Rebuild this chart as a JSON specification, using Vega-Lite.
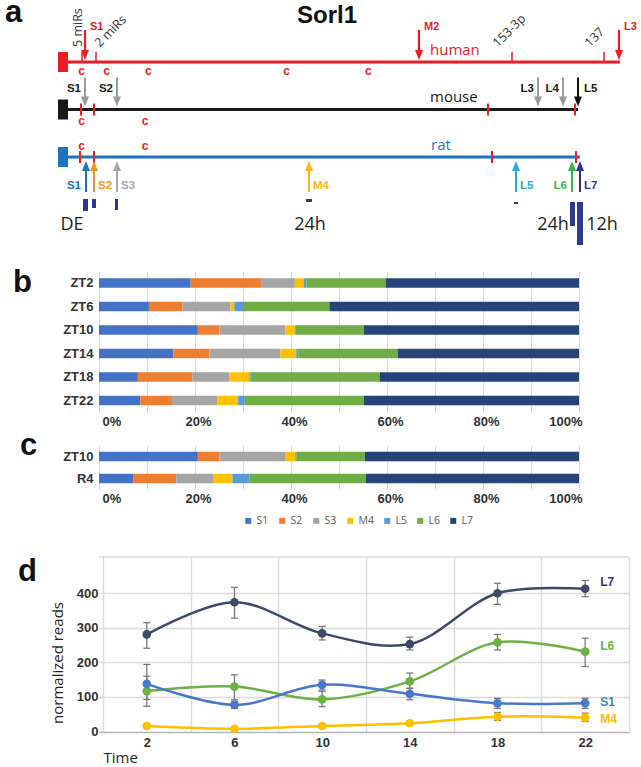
{
  "$schema": "https://vega.github.io/schema/vega-lite/v6.json",
  "padding": {"left": 5, "top": -4, "right": 0, "bottom": 0},
  "autosize": {"type": "pad"},
  "bounds": "flush",
  "spacing": 33.25,
  "resolve": {"scale": {"color": "independent"}, "legend": {"color": "independent"}},
  "config": {
    "view": {"stroke": null},
    "axis": {"labelFont": "Liberation Sans", "labelFontWeight": "bold", "labelFontSize": 13, "labelColor": "#333", "domain": false, "ticks": false, "tickSize": 0, "gridColor": "#d9d9d9", "titleFont": "Open Sans"}
  },
  "datasets": {
    "species": [
      {"species": "human", "track": 1, "box0": -20, "start": 80, "end": 5600, "namePos": 3700},
      {"species": "mouse", "track": 2, "box0": -20, "start": 80, "end": 5180, "namePos": 3700},
      {"species": "rat", "track": 3, "box0": -20, "start": 80, "end": 5200, "namePos": 3710}
    ],
    "sites": [
      {"species": "human", "track": 1, "pos": 220},
      {"species": "human", "track": 1, "pos": 360},
      {"species": "human", "track": 1, "pos": 4520},
      {"species": "human", "track": 1, "pos": 5440}
    ],
    "pas": [
      {"species": "mouse", "track": 2, "pos": 210},
      {"species": "mouse", "track": 2, "pos": 340},
      {"species": "mouse", "track": 2, "pos": 4280},
      {"species": "mouse", "track": 2, "pos": 5150},
      {"species": "rat", "track": 3, "pos": 200},
      {"species": "rat", "track": 3, "pos": 340},
      {"species": "rat", "track": 3, "pos": 4320},
      {"species": "rat", "track": 3, "pos": 5160}
    ],
    "cs": [
      {"species": "human", "track": 1, "pos": 217},
      {"species": "human", "track": 1, "pos": 467},
      {"species": "human", "track": 1, "pos": 883},
      {"species": "human", "track": 1, "pos": 2267},
      {"species": "human", "track": 1, "pos": 3083},
      {"species": "mouse", "track": 2, "pos": 217},
      {"species": "mouse", "track": 2, "pos": 850},
      {"species": "rat", "track": 3, "pos": 217},
      {"species": "rat", "track": 3, "pos": 850}
    ],
    "arrows": [
      {"species": "human", "track": 1, "iso": "S1", "pos": 250},
      {"species": "human", "track": 1, "iso": "M2", "pos": 3590},
      {"species": "human", "track": 1, "iso": "L3", "pos": 5590},
      {"species": "mouse", "track": 2, "iso": "S1", "pos": 250},
      {"species": "mouse", "track": 2, "iso": "S2", "pos": 570},
      {"species": "mouse", "track": 2, "iso": "L3", "pos": 4780},
      {"species": "mouse", "track": 2, "iso": "L4", "pos": 5030},
      {"species": "mouse", "track": 2, "iso": "L5", "pos": 5180},
      {"species": "rat", "track": 3, "iso": "S1", "pos": 260},
      {"species": "rat", "track": 3, "iso": "S2", "pos": 340},
      {"species": "rat", "track": 3, "iso": "S3", "pos": 570},
      {"species": "rat", "track": 3, "iso": "M4", "pos": 2490},
      {"species": "rat", "track": 3, "iso": "L5", "pos": 4560},
      {"species": "rat", "track": 3, "iso": "L6", "pos": 5120},
      {"species": "rat", "track": 3, "iso": "L7", "pos": 5200}
    ],
    "mirs": [
      {"label": "5 miRs", "pos": 180, "track": 1},
      {"label": "2 miRs", "pos": 370, "track": 1},
      {"label": "153-3p", "pos": 4350, "track": 1},
      {"label": "137", "pos": 5270, "track": 1}
    ],
    "reads": [
      {"iso": "S1", "x0": 230, "x1": 280, "y0": 3.884, "y1": 4.137},
      {"iso": "S2", "x0": 320, "x1": 360, "y0": 3.884, "y1": 4.074},
      {"iso": "S3", "x0": 550, "x1": 580, "y0": 3.884, "y1": 4.116},
      {"iso": "M4", "x0": 2460, "x1": 2520, "y0": 3.884, "y1": 3.947},
      {"iso": "L5", "x0": 4540, "x1": 4580, "y0": 3.947, "y1": 3.989},
      {"iso": "L6", "x0": 5100, "x1": 5150, "y0": 3.947, "y1": 4.453},
      {"iso": "L7", "x0": 5170, "x1": 5230, "y0": 3.947, "y1": 4.853}
    ],
    "times": [
      {"label": "DE", "pos": 120},
      {"label": "24h", "pos": 2500},
      {"label": "24h", "pos": 4930},
      {"label": "12h", "pos": 5420}
    ],
    "bdata": [
      {"sample": "ZT2", "iso": "S1", "pct": 19.1}, {"sample": "ZT2", "iso": "S2", "pct": 14.8}, {"sample": "ZT2", "iso": "S3", "pct": 6.9}, {"sample": "ZT2", "iso": "M4", "pct": 1.8}, {"sample": "ZT2", "iso": "L5", "pct": 0.6}, {"sample": "ZT2", "iso": "L6", "pct": 16.5}, {"sample": "ZT2", "iso": "L7", "pct": 40.3},
      {"sample": "ZT6", "iso": "S1", "pct": 10.4}, {"sample": "ZT6", "iso": "S2", "pct": 7.0}, {"sample": "ZT6", "iso": "S3", "pct": 10.0}, {"sample": "ZT6", "iso": "M4", "pct": 0.8}, {"sample": "ZT6", "iso": "L5", "pct": 1.8}, {"sample": "ZT6", "iso": "L6", "pct": 18.0}, {"sample": "ZT6", "iso": "L7", "pct": 52.0},
      {"sample": "ZT10", "iso": "S1", "pct": 20.6}, {"sample": "ZT10", "iso": "S2", "pct": 4.5}, {"sample": "ZT10", "iso": "S3", "pct": 13.7}, {"sample": "ZT10", "iso": "M4", "pct": 2.0}, {"sample": "ZT10", "iso": "L5", "pct": 0.2}, {"sample": "ZT10", "iso": "L6", "pct": 14.2}, {"sample": "ZT10", "iso": "L7", "pct": 44.8},
      {"sample": "ZT14", "iso": "S1", "pct": 15.5}, {"sample": "ZT14", "iso": "S2", "pct": 7.5}, {"sample": "ZT14", "iso": "S3", "pct": 14.8}, {"sample": "ZT14", "iso": "M4", "pct": 3.3}, {"sample": "ZT14", "iso": "L5", "pct": 0.4}, {"sample": "ZT14", "iso": "L6", "pct": 20.8}, {"sample": "ZT14", "iso": "L7", "pct": 37.7},
      {"sample": "ZT18", "iso": "S1", "pct": 8.1}, {"sample": "ZT18", "iso": "S2", "pct": 11.4}, {"sample": "ZT18", "iso": "S3", "pct": 7.6}, {"sample": "ZT18", "iso": "M4", "pct": 4.2}, {"sample": "ZT18", "iso": "L5", "pct": 0.3}, {"sample": "ZT18", "iso": "L6", "pct": 26.9}, {"sample": "ZT18", "iso": "L7", "pct": 41.5},
      {"sample": "ZT22", "iso": "S1", "pct": 8.6}, {"sample": "ZT22", "iso": "S2", "pct": 6.6}, {"sample": "ZT22", "iso": "S3", "pct": 9.4}, {"sample": "ZT22", "iso": "M4", "pct": 4.4}, {"sample": "ZT22", "iso": "L5", "pct": 1.4}, {"sample": "ZT22", "iso": "L6", "pct": 24.8}, {"sample": "ZT22", "iso": "L7", "pct": 44.8}
    ],
    "cdata": [
      {"sample": "ZT10", "iso": "S1", "pct": 20.6}, {"sample": "ZT10", "iso": "S2", "pct": 4.5}, {"sample": "ZT10", "iso": "S3", "pct": 13.8}, {"sample": "ZT10", "iso": "M4", "pct": 2.0}, {"sample": "ZT10", "iso": "L5", "pct": 0.2}, {"sample": "ZT10", "iso": "L6", "pct": 14.3}, {"sample": "ZT10", "iso": "L7", "pct": 44.6},
      {"sample": "R4", "iso": "S1", "pct": 7.2}, {"sample": "R4", "iso": "S2", "pct": 8.9}, {"sample": "R4", "iso": "S3", "pct": 7.8}, {"sample": "R4", "iso": "M4", "pct": 3.9}, {"sample": "R4", "iso": "L5", "pct": 3.6}, {"sample": "R4", "iso": "L6", "pct": 24.2}, {"sample": "R4", "iso": "L7", "pct": 44.4}
    ],
    "ddata": [
      {"series": "L7", "t": 2, "v": 281, "lo": 241, "hi": 315},
      {"series": "L7", "t": 6, "v": 374, "lo": 328, "hi": 417},
      {"series": "L7", "t": 10, "v": 284, "lo": 265, "hi": 304},
      {"series": "L7", "t": 14, "v": 253, "lo": 236, "hi": 273},
      {"series": "L7", "t": 18, "v": 400, "lo": 368, "hi": 429},
      {"series": "L7", "t": 22, "v": 413, "lo": 390, "hi": 437},
      {"series": "L6", "t": 2, "v": 117, "lo": 73, "hi": 160},
      {"series": "L6", "t": 6, "v": 130, "lo": 92, "hi": 164},
      {"series": "L6", "t": 10, "v": 93, "lo": 72, "hi": 116},
      {"series": "L6", "t": 14, "v": 145, "lo": 125, "hi": 169},
      {"series": "L6", "t": 18, "v": 258, "lo": 236, "hi": 281},
      {"series": "L6", "t": 22, "v": 231, "lo": 188, "hi": 270},
      {"series": "S1", "t": 2, "v": 138, "lo": 93, "hi": 194},
      {"series": "S1", "t": 6, "v": 77, "lo": 67, "hi": 87},
      {"series": "S1", "t": 10, "v": 135, "lo": 120, "hi": 149},
      {"series": "S1", "t": 14, "v": 109, "lo": 92, "hi": 125},
      {"series": "S1", "t": 18, "v": 82, "lo": 67, "hi": 96},
      {"series": "S1", "t": 22, "v": 82, "lo": 67, "hi": 96},
      {"series": "M4", "t": 2, "v": 16, "lo": 10, "hi": 22},
      {"series": "M4", "t": 6, "v": 8, "lo": 3, "hi": 13},
      {"series": "M4", "t": 10, "v": 16, "lo": 10, "hi": 22},
      {"series": "M4", "t": 14, "v": 24, "lo": 18, "hi": 30},
      {"series": "M4", "t": 18, "v": 43, "lo": 32, "hi": 55},
      {"series": "M4", "t": 22, "v": 40, "lo": 29, "hi": 53}
    ],
    "dlabels": [
      {"series": "L7", "t": 22, "v": 432},
      {"series": "L6", "t": 22, "v": 246},
      {"series": "S1", "t": 22, "v": 84},
      {"series": "M4", "t": 22, "v": 37}
    ]
  },
  "vconcat": [
    {
      "width": 530,
      "height": 237.5,
      "resolve": {"scale": {"color": "independent"}},
      "layer": [
        {
          "data": {"name": "species"},
          "mark": {"type": "rule", "strokeWidth": 3},
          "encoding": {
            "x": {"field": "start", "type": "quantitative", "scale": {"domain": [390, 5690], "nice": false, "zero": false}, "axis": null},
            "x2": {"field": "end"},
            "y": {"field": "track", "type": "quantitative", "scale": {"domain": [-0.305, 4.695], "reverse": true, "nice": false, "zero": false}, "axis": null},
            "color": {"field": "species", "type": "nominal", "scale": {"domain": ["human", "mouse", "rat"], "range": ["#ED1C24", "#1a1a1a", "#1C75BC"]}, "legend": null}
          }
        },
        {
          "data": {"name": "species"},
          "mark": {"type": "rect", "yOffset": -10, "y2Offset": 10},
          "encoding": {
            "x": {"field": "box0", "type": "quantitative"},
            "x2": {"field": "start"},
            "y": {"field": "track", "type": "quantitative"},
            "y2": {"field": "track"},
            "color": {"field": "species", "type": "nominal", "scale": {"domain": ["human", "mouse", "rat"], "range": ["#ED1C24", "#1a1a1a", "#1C75BC"]}, "legend": null}
          }
        },
        {
          "data": {"name": "species"},
          "mark": {"type": "text", "align": "left", "baseline": "middle", "font": "Open Sans", "fontSize": 15, "yOffset": -12},
          "encoding": {
            "x": {"field": "namePos", "type": "quantitative"},
            "y": {"field": "track", "type": "quantitative"},
            "text": {"field": "species"},
            "color": {"field": "species", "type": "nominal", "scale": {"domain": ["human", "mouse", "rat"], "range": ["#ED1C24", "#1a1a1a", "#1C75BC"]}, "legend": null}
          }
        },
        {
          "data": {"name": "sites"},
          "mark": {"type": "rule", "color": "#ED1C24", "strokeWidth": 1.5, "yOffset": -10, "y2Offset": 0},
          "encoding": {
            "x": {"field": "pos", "type": "quantitative"},
            "y": {"field": "track", "type": "quantitative"},
            "y2": {"field": "track"}
          }
        },
        {
          "data": {"name": "pas"},
          "mark": {"type": "rule", "color": "#ED1C24", "strokeWidth": 2, "yOffset": -6, "y2Offset": 6},
          "encoding": {
            "x": {"field": "pos", "type": "quantitative"},
            "y": {"field": "track", "type": "quantitative"},
            "y2": {"field": "track"}
          }
        },
        {
          "data": {"name": "cs"},
          "transform": [{"filter": "datum.species == 'human'"}],
          "mark": {"type": "text", "text": "c", "font": "Liberation Sans", "fontWeight": "bold", "fontSize": 12, "color": "#ED1C24", "baseline": "middle", "yOffset": 9},
          "encoding": {"x": {"field": "pos", "type": "quantitative"}, "y": {"field": "track", "type": "quantitative"}}
        },
        {
          "data": {"name": "cs"},
          "transform": [{"filter": "datum.species == 'mouse'"}],
          "mark": {"type": "text", "text": "c", "font": "Liberation Sans", "fontWeight": "bold", "fontSize": 12, "color": "#ED1C24", "baseline": "middle", "yOffset": 12},
          "encoding": {"x": {"field": "pos", "type": "quantitative"}, "y": {"field": "track", "type": "quantitative"}}
        },
        {
          "data": {"name": "cs"},
          "transform": [{"filter": "datum.species == 'rat'"}],
          "mark": {"type": "text", "text": "c", "font": "Liberation Sans", "fontWeight": "bold", "fontSize": 12, "color": "#ED1C24", "baseline": "middle", "yOffset": -11},
          "encoding": {"x": {"field": "pos", "type": "quantitative"}, "y": {"field": "track", "type": "quantitative"}}
        },
        {
          "data": {"name": "arrows"},
          "transform": [{"filter": "datum.species == 'human'"}],
          "mark": {"type": "rule", "color": "#ED1C24", "strokeWidth": 2.2, "yOffset": -32, "y2Offset": -10},
          "encoding": {"x": {"field": "pos", "type": "quantitative"}, "y": {"field": "track", "type": "quantitative"}, "y2": {"field": "track"}}
        },
        {
          "data": {"name": "arrows"},
          "transform": [{"filter": "datum.species == 'human'"}],
          "mark": {"type": "point", "shape": "M-0.8,-1L0.8,-1L0,1Z", "filled": true, "opacity": 1, "size": 100, "color": "#ED1C24", "yOffset": -7},
          "encoding": {"x": {"field": "pos", "type": "quantitative"}, "y": {"field": "track", "type": "quantitative"}}
        },
        {
          "data": {"name": "arrows"},
          "transform": [{"filter": "datum.species == 'human'"}],
          "mark": {"type": "text", "align": "left", "baseline": "middle", "dx": 5, "yOffset": -35, "font": "Liberation Sans", "fontWeight": "bold", "fontSize": 11, "color": "#ED1C24"},
          "encoding": {"x": {"field": "pos", "type": "quantitative"}, "y": {"field": "track", "type": "quantitative"}, "text": {"field": "iso"}}
        },
        {
          "data": {"name": "arrows"},
          "transform": [{"filter": "datum.species == 'mouse'"}],
          "mark": {"type": "rule", "strokeWidth": 2, "yOffset": -32, "y2Offset": -10},
          "encoding": {
            "x": {"field": "pos", "type": "quantitative"}, "y": {"field": "track", "type": "quantitative"}, "y2": {"field": "track"},
            "color": {"condition": {"test": "datum.iso == 'L5'", "value": "#111111"}, "value": "#9a9a9a"}
          }
        },
        {
          "data": {"name": "arrows"},
          "transform": [{"filter": "datum.species == 'mouse'"}],
          "mark": {"type": "point", "shape": "M-0.8,-1L0.8,-1L0,1Z", "filled": true, "opacity": 1, "size": 100, "yOffset": -8},
          "encoding": {
            "x": {"field": "pos", "type": "quantitative"}, "y": {"field": "track", "type": "quantitative"},
            "color": {"condition": {"test": "datum.iso == 'L5'", "value": "#111111"}, "value": "#9a9a9a"}
          }
        },
        {
          "data": {"name": "arrows"},
          "transform": [{"filter": "datum.species == 'mouse' && datum.iso != 'L5'"}],
          "mark": {"type": "text", "align": "right", "baseline": "middle", "dx": -4, "yOffset": -20, "font": "Liberation Sans", "fontWeight": "bold", "fontSize": 11.5, "color": "#1a1a1a"},
          "encoding": {"x": {"field": "pos", "type": "quantitative"}, "y": {"field": "track", "type": "quantitative"}, "text": {"field": "iso"}}
        },
        {
          "data": {"name": "arrows"},
          "transform": [{"filter": "datum.species == 'mouse' && datum.iso == 'L5'"}],
          "mark": {"type": "text", "align": "left", "baseline": "middle", "dx": 6, "yOffset": -20, "font": "Liberation Sans", "fontWeight": "bold", "fontSize": 11.5, "color": "#1a1a1a"},
          "encoding": {"x": {"field": "pos", "type": "quantitative"}, "y": {"field": "track", "type": "quantitative"}, "text": {"field": "iso"}}
        },
        {
          "data": {"name": "arrows"},
          "transform": [{"filter": "datum.species == 'rat'"}],
          "mark": {"type": "rule", "strokeWidth": 2, "yOffset": 12, "y2Offset": 35},
          "encoding": {
            "x": {"field": "pos", "type": "quantitative"}, "y": {"field": "track", "type": "quantitative"}, "y2": {"field": "track"},
            "color": {"field": "iso", "type": "nominal", "scale": {"domain": ["S1", "S2", "S3", "M4", "L5", "L6", "L7"], "range": ["#1C75BC", "#F7941D", "#A7A9AC", "#FDB813", "#27AAE1", "#39B54A", "#2E3192"]}, "legend": null}
          }
        },
        {
          "data": {"name": "arrows"},
          "transform": [{"filter": "datum.species == 'rat'"}],
          "mark": {"type": "point", "shape": "M-0.8,1L0.8,1L0,-1Z", "filled": true, "opacity": 1, "size": 100, "yOffset": 9},
          "encoding": {
            "x": {"field": "pos", "type": "quantitative"}, "y": {"field": "track", "type": "quantitative"},
            "color": {"field": "iso", "type": "nominal", "scale": {"domain": ["S1", "S2", "S3", "M4", "L5", "L6", "L7"], "range": ["#1C75BC", "#F7941D", "#A7A9AC", "#FDB813", "#27AAE1", "#39B54A", "#2E3192"]}, "legend": null}
          }
        },
        {
          "data": {"name": "arrows"},
          "transform": [{"filter": "datum.species == 'rat' && (datum.iso == 'S1' || datum.iso == 'L6')"}],
          "mark": {"type": "text", "align": "right", "baseline": "middle", "dx": -5, "yOffset": 29, "font": "Liberation Sans", "fontWeight": "bold", "fontSize": 11.5},
          "encoding": {
            "x": {"field": "pos", "type": "quantitative"}, "y": {"field": "track", "type": "quantitative"}, "text": {"field": "iso"},
            "color": {"field": "iso", "type": "nominal", "scale": {"domain": ["S1", "S2", "S3", "M4", "L5", "L6", "L7"], "range": ["#1C75BC", "#F7941D", "#A7A9AC", "#FDB813", "#27AAE1", "#39B54A", "#2E3192"]}, "legend": null}
          }
        },
        {
          "data": {"name": "arrows"},
          "transform": [{"filter": "datum.species == 'rat' && datum.iso != 'S1' && datum.iso != 'L6'"}],
          "mark": {"type": "text", "align": "left", "baseline": "middle", "dx": 4, "yOffset": 29, "font": "Liberation Sans", "fontWeight": "bold", "fontSize": 11.5},
          "encoding": {
            "x": {"field": "pos", "type": "quantitative"}, "y": {"field": "track", "type": "quantitative"}, "text": {"field": "iso"},
            "color": {"field": "iso", "type": "nominal", "scale": {"domain": ["S1", "S2", "S3", "M4", "L5", "L6", "L7"], "range": ["#1C75BC", "#F7941D", "#A7A9AC", "#FDB813", "#27AAE1", "#39B54A", "#2E3192"]}, "legend": null}
          }
        },
        {
          "data": {"name": "reads"},
          "mark": {"type": "rect", "color": "#2B3990"},
          "encoding": {
            "x": {"field": "x0", "type": "quantitative"}, "x2": {"field": "x1"},
            "y": {"field": "y0", "type": "quantitative"}, "y2": {"field": "y1"}
          }
        },
        {
          "data": {"name": "times"},
          "mark": {"type": "text", "align": "center", "baseline": "middle", "font": "Open Sans", "fontSize": 18, "color": "#231F20"},
          "encoding": {"x": {"field": "pos", "type": "quantitative"}, "y": {"datum": 4.432}, "text": {"field": "label"}}
        },
        {
          "data": {"name": "mirs"},
          "transform": [{"filter": "datum.label == '5 miRs'"}],
          "mark": {"type": "text", "angle": 270, "align": "left", "baseline": "middle", "font": "Open Sans", "fontSize": 12.5, "color": "#333", "yOffset": -15},
          "encoding": {"x": {"field": "pos", "type": "quantitative"}, "y": {"field": "track", "type": "quantitative"}, "text": {"field": "label"}}
        },
        {
          "data": {"name": "mirs"},
          "transform": [{"filter": "datum.label != '5 miRs'"}],
          "mark": {"type": "text", "angle": 315, "align": "left", "baseline": "middle", "font": "Open Sans", "fontSize": 12.5, "color": "#333", "yOffset": -17},
          "encoding": {"x": {"field": "pos", "type": "quantitative"}, "y": {"field": "track", "type": "quantitative"}, "text": {"field": "label"}}
        },
        {
          "data": {"values": [{}]},
          "mark": {"type": "text", "text": "a", "align": "left", "baseline": "alphabetic", "font": "Liberation Sans", "fontWeight": "bold", "fontSize": 31, "color": "#111"},
          "encoding": {"x": {"datum": -550}, "y": {"datum": 0.158}}
        },
        {
          "data": {"values": [{}]},
          "mark": {"type": "text", "text": "Sorl1", "align": "center", "baseline": "alphabetic", "font": "Liberation Sans", "fontWeight": "bold", "fontSize": 24, "color": "#111"},
          "encoding": {"x": {"datum": 2670}, "y": {"datum": 0.179}}
        }
      ]
    },
    {
      "width": 480,
      "height": 141,
      "title": {"text": "b", "anchor": "start", "frame": "group", "orient": "top", "offset": -33, "dx": -86, "dy": 19, "baseline": "alphabetic", "fontSize": 31, "font": "Liberation Sans", "fontWeight": "bold", "color": "#111"},
      "data": {"name": "bdata"},
      "transform": [{"calculate": "indexof(['S1','S2','S3','M4','L5','L6','L7'], datum.iso)", "as": "rank"}],
      "mark": {"type": "bar"},
      "encoding": {
        "y": {"field": "sample", "type": "nominal", "sort": ["ZT2", "ZT6", "ZT10", "ZT14", "ZT18", "ZT22"], "scale": {"paddingInner": 0.6, "paddingOuter": 0.3}, "axis": {"title": null, "labelPadding": 6}},
        "x": {"field": "pct", "type": "quantitative", "stack": "zero", "scale": {"domain": [0, 100], "nice": false}, "axis": {"title": null, "values": [0, 10, 20, 30, 40, 50, 60, 70, 80, 90, 100], "labelExpr": "datum.value % 20 == 0 ? datum.value + '%' : ''", "grid": true, "labelPadding": 3, "labelOffset": 3, "labelOverlap": false}},
        "color": {"field": "iso", "type": "nominal", "scale": {"domain": ["S1", "S2", "S3", "M4", "L5", "L6", "L7"], "range": ["#4472C4", "#ED7D31", "#A5A5A5", "#FFC000", "#5B9BD5", "#70AD47", "#264478"]}, "legend": null},
        "order": {"field": "rank", "type": "quantitative"}
      }
    },
    {
      "width": 480,
      "height": 44,
      "title": {"text": "c", "anchor": "start", "frame": "group", "orient": "top", "offset": -30, "dx": -79, "dy": 10, "baseline": "alphabetic", "fontSize": 31, "font": "Liberation Sans", "fontWeight": "bold", "color": "#111"},
      "data": {"name": "cdata"},
      "transform": [{"calculate": "indexof(['S1','S2','S3','M4','L5','L6','L7'], datum.iso)", "as": "rank"}],
      "mark": {"type": "bar"},
      "encoding": {
        "y": {"field": "sample", "type": "nominal", "sort": ["ZT10", "R4"], "scale": {"paddingInner": 0.57, "paddingOuter": 0.285}, "axis": {"title": null, "labelPadding": 6}},
        "x": {"field": "pct", "type": "quantitative", "stack": "zero", "scale": {"domain": [0, 100], "nice": false}, "axis": {"title": null, "values": [0, 10, 20, 30, 40, 50, 60, 70, 80, 90, 100], "labelExpr": "datum.value % 20 == 0 ? datum.value + '%' : ''", "grid": true, "labelPadding": 3, "labelOffset": 3, "labelOverlap": false}},
        "color": {"field": "iso", "type": "nominal", "scale": {"domain": ["S1", "S2", "S3", "M4", "L5", "L6", "L7"], "range": ["#4472C4", "#ED7D31", "#A5A5A5", "#FFC000", "#5B9BD5", "#70AD47", "#264478"]}, "legend": {"orient": "none", "legendX": 144, "legendY": 70, "direction": "horizontal", "columns": 7, "title": null, "symbolType": "square", "symbolSize": 36, "symbolStrokeWidth": 0, "labelFontSize": 10.5, "labelFont": "Open Sans", "labelColor": "#595959", "columnPadding": 8, "labelOffset": 3, "padding": 0}},
        "order": {"field": "rank", "type": "quantitative"}
      }
    },
    {
      "width": 480,
      "height": 1,
      "data": {"values": []},
      "mark": {"type": "point"},
      "encoding": {}
    },
    {
      "width": 530,
      "height": 174.5,
      "title": {"text": "d", "anchor": "start", "frame": "group", "orient": "top", "offset": -29, "dx": -81, "dy": 26.5, "baseline": "alphabetic", "fontSize": 31, "font": "Liberation Sans", "fontWeight": "bold", "color": "#111"},
      "resolve": {"scale": {"color": "independent"}},
      "layer": [
        {
          "data": {"values": [{}]},
          "mark": {"type": "rule", "color": "#dcdcdc", "strokeWidth": 1.5},
          "encoding": {"y": {"datum": 505, "type": "quantitative", "scale": {"domain": [0, 505], "nice": false}}}
        },
        {
          "data": {"name": "ddata"},
          "mark": {"type": "line", "interpolate": "catmull-rom", "strokeWidth": 2.5},
          "encoding": {
            "x": {"field": "t", "type": "quantitative", "scale": {"domain": [-0.18, 24], "nice": false, "zero": false},
              "axis": {"title": "Time", "values": [0, 2, 4, 6, 8, 10, 12, 14, 16, 18, 20, 22, 24], "labelExpr": "datum.value % 4 == 2 ? datum.label : ''", "labelOverlap": false, "grid": true, "gridOpacity": {"condition": {"test": "datum.value % 4 == 0", "value": 1}, "value": 0}, "gridColor": "#dcdcdc", "gridWidth": 1.5, "labelPadding": 4.5, "titleX": 4, "titleY": 26, "titleAlign": "left", "titleBaseline": "middle", "titleFont": "Open Sans", "titleFontWeight": "normal", "titleFontSize": 15, "titleColor": "#222"}},
            "y": {"field": "v", "type": "quantitative", "scale": {"domain": [0, 505], "nice": false},
              "axis": {"title": "normalized reads", "values": [0, 100, 200, 300, 400], "grid": true, "gridColor": {"condition": {"test": "datum.value == 0", "value": "#b5b5b5"}, "value": "#dcdcdc"}, "gridWidth": 1.5, "labelPadding": 1, "titleAngle": 270, "titleX": -42, "titleY": 105.5, "titleAlign": "center", "titleBaseline": "middle", "titleFont": "Open Sans", "titleFontWeight": "normal", "titleFontSize": 15, "titleColor": "#222"}},
            "color": {"field": "series", "type": "nominal", "scale": {"domain": ["L7", "L6", "S1", "M4"], "range": ["#3c4a6a", "#6ab344", "#4a78c8", "#ffc000"]}, "legend": null}
          }
        },
        {
          "data": {"name": "ddata"},
          "mark": {"type": "rule", "color": "#7a7a7a", "strokeWidth": 1.3},
          "encoding": {"x": {"field": "t", "type": "quantitative"}, "y": {"field": "lo", "type": "quantitative"}, "y2": {"field": "hi"}}
        },
        {
          "data": {"name": "ddata"},
          "mark": {"type": "tick", "orient": "horizontal", "size": 7, "thickness": 1.3, "color": "#7a7a7a", "opacity": 1},
          "encoding": {"x": {"field": "t", "type": "quantitative"}, "y": {"field": "lo", "type": "quantitative"}}
        },
        {
          "data": {"name": "ddata"},
          "mark": {"type": "tick", "orient": "horizontal", "size": 7, "thickness": 1.3, "color": "#7a7a7a", "opacity": 1},
          "encoding": {"x": {"field": "t", "type": "quantitative"}, "y": {"field": "hi", "type": "quantitative"}}
        },
        {
          "data": {"name": "ddata"},
          "mark": {"type": "circle", "size": 75, "opacity": 1},
          "encoding": {
            "x": {"field": "t", "type": "quantitative"}, "y": {"field": "v", "type": "quantitative"},
            "color": {"field": "series", "type": "nominal", "scale": {"domain": ["L7", "L6", "S1", "M4"], "range": ["#3c4a6a", "#6ab344", "#4a78c8", "#ffc000"]}, "legend": null}
          }
        },
        {
          "data": {"name": "dlabels"},
          "mark": {"type": "text", "align": "left", "baseline": "middle", "dx": 15, "font": "Liberation Sans", "fontWeight": "bold", "fontSize": 12},
          "encoding": {
            "x": {"field": "t", "type": "quantitative"}, "y": {"field": "v", "type": "quantitative"}, "text": {"field": "series"},
            "color": {"field": "series", "type": "nominal", "scale": {"domain": ["L7", "L6", "S1", "M4"], "range": ["#2E3192", "#5cb848", "#3b82d0", "#fdb913"]}, "legend": null}
          }
        }
      ]
    }
  ]
}
